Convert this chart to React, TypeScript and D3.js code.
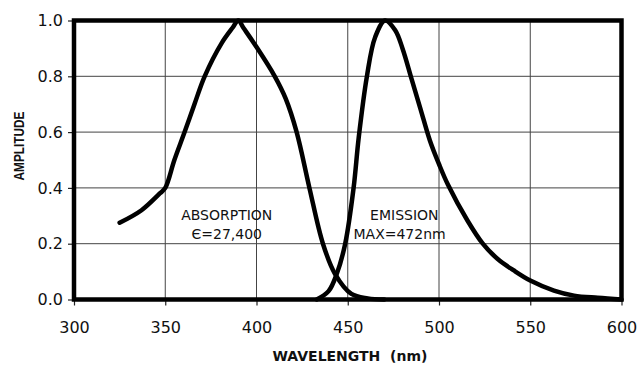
import React, { useEffect, useRef } from 'react';
import * as d3 from 'd3';

// wavelength (nm) / amplitude
const absWl = [325, 337, 347, 350, 355, 360.6, 366, 371.6, 381, 387, 390, 393, 400, 410, 416, 422, 429, 436.4, 443, 452, 461, 470];
const absAmp = [0.275, 0.32, 0.38, 0.40, 0.50, 0.60, 0.70, 0.80, 0.92, 0.975, 1.0, 0.972, 0.905, 0.80, 0.72, 0.60, 0.40, 0.20, 0.092, 0.02, 0.004, 0];
const emWl = [433, 439.5, 444, 448.6, 453.2, 456, 460.5, 465, 470.5, 476, 480, 485, 490, 495, 500, 505, 515.5, 524, 532, 541, 550, 563, 574, 587, 600];
const emAmp = [0, 0.03, 0.092, 0.20, 0.40, 0.58, 0.80, 0.94, 1.0, 0.965, 0.90, 0.79, 0.68, 0.57, 0.485, 0.41, 0.284, 0.20, 0.146, 0.104, 0.068, 0.032, 0.014, 0.006, 0];
const xTicks = [300, 350, 400, 450, 500, 550, 600];
const yTicks = [0, 0.2, 0.4, 0.6, 0.8, 1.0];

const W = 639, H = 366;

export default function App() {
  const ref = useRef<SVGSVGElement>(null);

  useEffect(() => {
    if (!ref.current) return;
    const root = d3.select(ref.current);
    root.selectAll('*').remove();

    const margin = { top: 20.5, right: 17.5, bottom: 66.5, left: 74 };
    const iw = W - margin.left - margin.right;
    const ih = H - margin.top - margin.bottom;
    const g = root.append('g').attr('transform', `translate(${margin.left},${margin.top})`);

    const x = d3.scaleLinear().domain([300, 600]).range([0, iw]);
    const y = d3.scaleLinear().domain([0, 1]).range([ih, 0]);

    // grid
    g.append('g').selectAll('line.vx').data(xTicks.slice(1, -1)).enter().append('line')
      .attr('x1', d => x(d)).attr('x2', d => x(d)).attr('y1', 0).attr('y2', ih)
      .attr('stroke', '#444').attr('stroke-width', 1);
    g.append('g').selectAll('line.hy').data(yTicks.slice(1, -1)).enter().append('line')
      .attr('y1', d => y(d)).attr('y2', d => y(d)).attr('x1', 0).attr('x2', iw)
      .attr('stroke', '#444').attr('stroke-width', 1);

    const font = '"DejaVu Sans", sans-serif';
    const xa = g.append('g').attr('transform', `translate(0,${ih})`)
      .call(d3.axisBottom(x).tickValues(xTicks).tickSize(6).tickPadding(16).tickFormat(d3.format('d') as any));
    const ya = g.append('g')
      .call(d3.axisLeft(y).tickValues(yTicks).tickSize(6).tickPadding(5).tickFormat(d3.format('.1f') as any));
    [xa, ya].forEach(a => {
      a.select('.domain').remove();
      a.selectAll('line').attr('stroke', '#222').attr('stroke-width', 1.2);
      a.selectAll('text').attr('font-family', font).attr('font-size', 16).attr('fill', '#111');
    });

    const line = d3.line<[number, number]>().x(d => x(d[0])).y(d => y(d[1])).curve(d3.curveCatmullRom.alpha(0.5));
    const absPts = absWl.map((w, i) => [w, absAmp[i]] as [number, number]);
    const emPts = emWl.map((w, i) => [w, emAmp[i]] as [number, number]);
    [absPts, emPts].forEach(pts => {
      g.append('path').datum(pts).attr('d', line).attr('fill', 'none')
        .attr('stroke', '#000').attr('stroke-width', 4.5).attr('stroke-linejoin', 'round').attr('stroke-linecap', 'round');
    });

    // frame
    g.append('rect').attr('x', 0).attr('y', 0).attr('width', iw).attr('height', ih)
      .attr('fill', 'none').attr('stroke', '#000').attr('stroke-width', 4.5);

    const label = (t: string, wl: number, py: number) =>
      g.append('text').attr('x', x(wl)).attr('y', py - margin.top).attr('text-anchor', 'middle')
        .attr('font-family', font).attr('font-size', 14).attr('fill', '#111').text(t);
    label('ABSORPTION', 383.7, 220);
    label('Є=27,400', 383.7, 239);
    label('EMISSION', 481, 220);
    label('MAX=472nm', 478.4, 239);

    root.append('text').attr('x', 350).attr('y', 361).attr('text-anchor', 'middle')
      .attr('font-family', font).attr('font-weight', 'bold').attr('font-size', 14).attr('fill', '#111')
      .attr('xml:space', 'preserve').style('white-space', 'pre').text('WAVELENGTH  (nm)');
    root.append('text').attr('transform', 'translate(23.5,146) rotate(-90)').attr('text-anchor', 'middle')
      .attr('font-family', '"Liberation Sans", Arial, sans-serif').attr('font-weight', 'bold').attr('font-size', 15.5)
      .attr('textLength', 69).attr('lengthAdjust', 'spacingAndGlyphs').attr('fill', '#111').text('AMPLITUDE');
  }, []);

  return (
    <svg ref={ref} width={W} height={H} style={{ position: 'absolute', left: 0, top: 0, background: '#fff' }} />
  );
}
